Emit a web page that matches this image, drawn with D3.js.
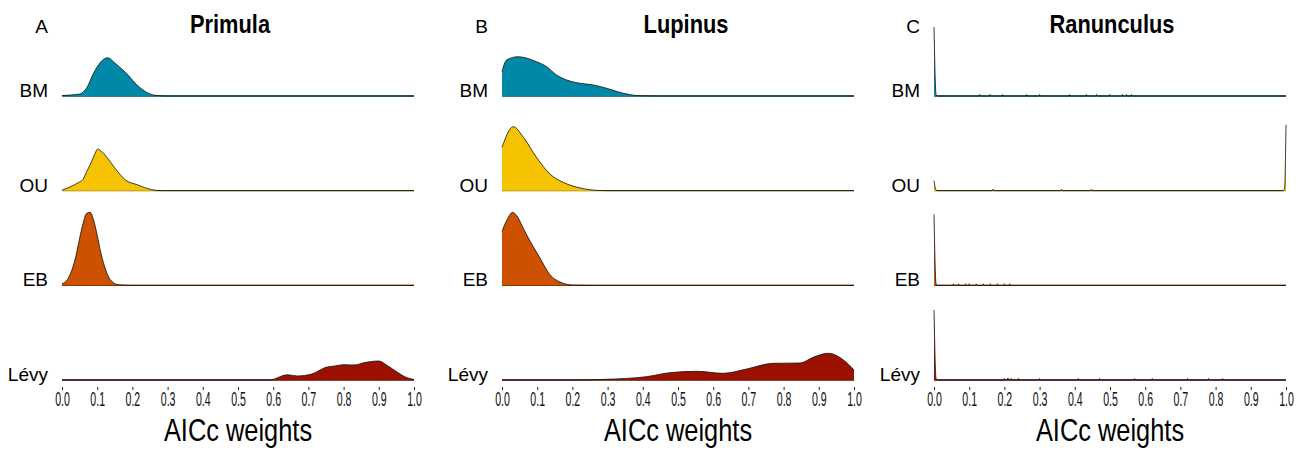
<!DOCTYPE html>
<html>
<head>
<meta charset="utf-8">
<script src="https://cdn.jsdelivr.net/npm/d3@7"></script>
<style>
  body { margin: 0; background: #fff; }
  svg { display: block; }
</style>
</head>
<body>
<div id="js_chart"></div>
<script>
// Data: [AICc weight, density]
const models = ["BM", "OU", "EB", "Lévy"];
const genera = ["Primula", "Lupinus", "Ranunculus"];
const panelTags = ["A", "B", "C"];
const tickValues = [0, 0.1, 0.2, 0.3, 0.4, 0.5, 0.6, 0.7, 0.8, 0.9, 1.0];

const primulaBM = [[0,0.1],[0.05,0.4],[0.07,1.6],[0.09,4.6],[0.11,6.8],[0.13,7.65],[0.15,6.6],[0.17,5.4],[0.19,4.0],[0.21,2.4],[0.23,1.2],[0.25,0.4],[0.27,0.1],[0.30,0],[1,0]];
const primulaOU = [[0,0.1],[0.02,0.66],[0.046,1.6],[0.059,2.2],[0.07,3.8],[0.08,5.2],[0.09,6.8],[0.102,8.34],[0.11,8.0],[0.127,6.7],[0.156,4.0],[0.18,2.14],[0.213,1.2],[0.255,0.2],[0.28,0],[1,0]];
const primulaEB = [[0,0.28],[0.02,1.7],[0.04,6],[0.05,9.4],[0.06,12.4],[0.07,14.4],[0.08,14.6],[0.09,13],[0.1,10],[0.11,6.6],[0.12,4],[0.13,2],[0.14,0.9],[0.16,0.12],[0.2,0],[1,0]];
const primulaLevy = [[0,0],[0.59,0],[0.64,1.06],[0.668,0.8],[0.71,1.2],[0.75,2.54],[0.774,2.8],[0.80,3.06],[0.83,3.0],[0.858,3.46],[0.9,3.8],[0.925,2.86],[0.953,1.54],[0.977,0.54],[1,0.1]];

const lupinusBM = [[0,4.86],[0.013,7.2],[0.046,7.86],[0.098,6.86],[0.127,5.86],[0.155,4.2],[0.184,3.2],[0.222,2.54],[0.26,2.2],[0.297,1.54],[0.345,0.54],[0.39,0.06],[0.45,0],[1,0]];
const lupinusOU = [[0,8.66],[0.032,12.8],[0.061,10.66],[0.098,6.66],[0.136,3.34],[0.174,1.66],[0.222,0.54],[0.27,0.06],[0.3,0],[1,0]];
const lupinusEB = [[0,10.8],[0.015,13.2],[0.03,14.6],[0.045,13.6],[0.06,11.46],[0.08,8.8],[0.108,5.46],[0.136,2.14],[0.165,0.66],[0.2,0.06],[0.25,0],[1,0]];
const lupinusLevy = [[0,0],[0.2,0],[0.297,0.14],[0.41,0.66],[0.477,1.46],[0.553,1.74],[0.629,1.34],[0.695,2.2],[0.771,3.34],[0.847,3.4],[0.884,4.54],[0.927,5.34],[0.97,4.0],[1,2.0]];

const ranunculusBM = [[0,13.8],[0.006,0.2],[0.012,0],[1,0]];
const ranunculusOU = [[0,2.0],[0.006,0.1],[0.012,0],[0.99,0],[0.996,0.4],[1,13.2]];
const ranunculusEB = [[0,14.2],[0.006,0.2],[0.012,0],[1,0]];
const ranunculusLevy = [[0,14],[0.006,0.2],[0.012,0],[1,0]];

// tiny blips along the Ranunculus baselines: [position, density]
const ranBMSpikes = [[0.13,0.3],[0.159,0.3],[0.195,0.3],[0.263,0.3],[0.30,0.3],[0.385,0.3],[0.433,0.3],[0.462,0.3],[0.499,0.3],[0.535,0.3],[0.547,0.3],[0.561,0.3]];
const ranOUSpikes = [[0.168,0.3],[0.362,0.3],[0.447,0.3]];
const ranEBSpikes = [[0.055,0.3],[0.07,0.3],[0.09,0.3],[0.1,0.3],[0.12,0.3],[0.14,0.3],[0.16,0.3],[0.18,0.3],[0.2,0.3],[0.215,0.3]];
const ranLevySpikes = [[0.2,0.3],[0.21,0.4],[0.22,0.3],[0.24,0.3],[0.3,0.3],[0.41,0.3],[0.47,0.3],[0.57,0.3],[0.62,0.3],[0.72,0.3],[0.78,0.3],[0.82,0.3]];

const colors = ["#0088A8", "#F5C300", "#CE5100", "#9C1000"];

function withSpikes(curve, spikes) {
    let pts = curve.slice();
    spikes.forEach(function (s) {
        pts.push([s[0] - 0.002, 0], [s[0], s[1]], [s[0] + 0.002, 0]);
    });
    pts.sort(function (a, b) { return a[0] - b[0]; });
    return pts;
}

const panels = [
    [primulaBM, primulaOU, primulaEB, primulaLevy],
    [lupinusBM, lupinusOU, lupinusEB, lupinusLevy],
    [withSpikes(ranunculusBM, ranBMSpikes), withSpikes(ranunculusOU, ranOUSpikes),
     withSpikes(ranunculusEB, ranEBSpikes), withSpikes(ranunculusLevy, ranLevySpikes)]
];

// Layout
const W = 1307, H = 452;
const panelLeft = [62, 502, 934],
    panelWidth = 352,
    titleX = [230, 686, 1112];
const sans = "'Liberation Sans', Arial, sans-serif";

const svg = d3.select("#js_chart")
    .append("svg")
    .attr("width", W)
    .attr("height", H);

const ridge = d3.scalePoint().domain(models).range([96, 380]);
const dens = d3.scaleLinear().domain([0, 15]).range([0, 75]);

// condensed text: the figure uses a narrow face, so squeeze a regular one
function narrowText(g, x, y, size, weight, str, sx) {
    return g.append("text")
        .attr("transform", "translate(" + x + "," + y + ") scale(" + sx + ",1)")
        .attr("text-anchor", "middle")
        .style("font-family", sans)
        .style("font-weight", weight)
        .style("font-size", size + "px")
        .text(str);
}

panels.forEach(function (series, i) {
    let x = d3.scaleLinear().domain([0, 1]).range([panelLeft[i], panelLeft[i] + panelWidth]);
    let g = svg.append("g");

    // panel tag + title
    g.append("text")
        .attr("x", panelLeft[i] - 14).attr("y", 33)
        .attr("text-anchor", "end")
        .style("font-family", sans)
        .style("font-size", "19px")
        .text(panelTags[i]);

    narrowText(g, titleX[i], 33, 26, "bold", genera[i], 0.84);

    models.forEach(function (m, j) {
        let base = ridge(m);
        let pts = series[j];

        let area = d3.area()
            .x(function (d) { return x(d[0]); })
            .y0(base)
            .y1(function (d) { return base - dens(d[1]); })
            .curve(d3.curveMonotoneX);

        let line = d3.line()
            .x(function (d) { return x(d[0]); })
            .y(function (d) { return base - dens(d[1]); })
            .curve(d3.curveMonotoneX);

        g.append("line")
            .attr("x1", x(0)).attr("x2", x(1))
            .attr("y1", base).attr("y2", base)
            .attr("stroke", d3.color(colors[j]).darker(1.6))
            .attr("stroke-width", 1.4);

        g.append("path")
            .datum(pts)
            .attr("d", area)
            .attr("fill", colors[j]);

        g.append("path")
            .datum(pts)
            .attr("d", line)
            .attr("fill", "none")
            .attr("stroke", "#111")
            .attr("stroke-width", 0.8);

        g.append("text")
            .attr("x", panelLeft[i] - 14).attr("y", base + 1)
            .attr("text-anchor", "end")
            .style("font-family", sans)
            .style("font-size", "19px")
            .text(m);
    });

    // x axis
    let ax = g.append("g")
        .attr("transform", "translate(0,387)")
        .call(d3.axisBottom(x).tickValues(tickValues).tickSize(3).tickFormat(d3.format(".1f")));
    ax.select(".domain").remove();
    ax.selectAll(".tick line").attr("stroke", "#222");
    ax.selectAll(".tick text")
        .attr("y", 5)
        .attr("dy", "0.71em")
        .attr("fill", "#111")
        .attr("transform", "scale(0.53,1)")
        .style("font-family", sans)
        .style("font-size", "20px");

    narrowText(g, panelLeft[i] + panelWidth / 2, 441, 31, "normal", "AICc weights", 0.82);
});
</script>
</body>
</html>
